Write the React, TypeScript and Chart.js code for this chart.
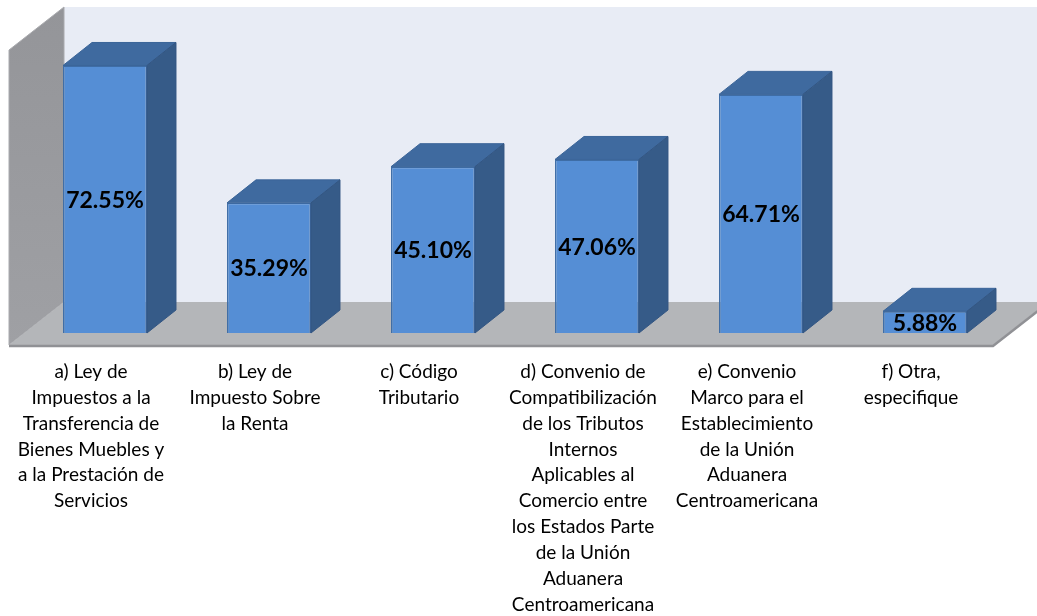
import React, { useEffect, useRef } from "react";
import { Chart, registerables } from "chart.js";

Chart.register(...registerables);

const categories: string[][] = [
  ["a) Ley de", "Impuestos a la", "Transferencia de", "Bienes Muebles y", "a la Prestación de", "Servicios"],
  ["b) Ley de", "Impuesto Sobre", "la Renta"],
  ["c) Código", "Tributario"],
  [
    "d) Convenio de",
    "Compatibilización",
    "de los Tributos",
    "Internos",
    "Aplicables al",
    "Comercio entre",
    "los Estados Parte",
    "de la Unión",
    "Aduanera",
    "Centroamericana",
  ],
  ["e) Convenio", "Marco para el", "Establecimiento", "de la Unión", "Aduanera", "Centroamericana"],
  ["f) Otra,", "especifique"],
];

const values: number[] = [72.55, 35.29, 45.1, 47.06, 64.71, 5.88];
const valueLabels: string[] = ["72.55%", "35.29%", "45.10%", "47.06%", "64.71%", "5.88%"];

const axisMin = 0;
const axisMax = 80;

const FONT = "Lato, 'Open Sans', 'DejaVu Sans', sans-serif";

// 3D offsets relative to the bar front plane
const FRONT = { x: -14, y: 12 };
const BACK = { x: 41, y: -31 };
const BAR_DEPTH = { x: 29, y: -23 };

const COLORS = {
  front: "#558ED5",
  frontBorder: "#3E6DA6",
  top: "#3F6A9F",
  side: "#365B88",
  backWall: "#E8ECF5",
  sideWall: "#97989C",
  floor: "#B4B6B9",
  floorEdge: "#909195",
};

const walls3d = {
  id: "walls3d",
  beforeDatasetsDraw(chart: any) {
    const { ctx, chartArea } = chart;
    const { left, right, top, bottom } = chartArea;
    ctx.save();
    // back wall
    ctx.fillStyle = COLORS.backWall;
    ctx.fillRect(left + BACK.x, top + BACK.y, right - left + 80, bottom - top);
    // side wall
    ctx.beginPath();
    ctx.moveTo(left + FRONT.x, bottom + FRONT.y);
    ctx.lineTo(left + FRONT.x, top + FRONT.y);
    ctx.lineTo(left + BACK.x, top + BACK.y);
    ctx.lineTo(left + BACK.x, bottom + BACK.y);
    ctx.closePath();
    const g = ctx.createLinearGradient(0, top + BACK.y, 0, bottom + FRONT.y);
    g.addColorStop(0, "#949599");
    g.addColorStop(1, "#9FA0A4");
    ctx.fillStyle = g;
    ctx.fill();
    ctx.strokeStyle = "#A9AAAE";
    ctx.lineWidth = 1;
    ctx.stroke();
    // floor
    ctx.beginPath();
    ctx.moveTo(left + FRONT.x, bottom + FRONT.y);
    ctx.lineTo(right + FRONT.x, bottom + FRONT.y);
    ctx.lineTo(right + BACK.x, bottom + BACK.y);
    ctx.lineTo(left + BACK.x, bottom + BACK.y);
    ctx.closePath();
    ctx.fillStyle = COLORS.floor;
    ctx.fill();
    // floor front and right edges
    ctx.beginPath();
    ctx.moveTo(left + FRONT.x, bottom + FRONT.y + 1);
    ctx.lineTo(right + FRONT.x, bottom + FRONT.y + 1);
    ctx.lineTo(right + BACK.x, bottom + BACK.y + 1);
    ctx.strokeStyle = COLORS.floorEdge;
    ctx.lineWidth = 2.5;
    ctx.stroke();
    ctx.restore();
  },
  afterDatasetsDraw(chart: any) {
    const { ctx } = chart;
    const meta = chart.getDatasetMeta(0);
    ctx.save();
    meta.data.forEach((bar: any) => {
      const { x, y, base, width } = bar.getProps(["x", "y", "base", "width"], true);
      const l = x - width / 2;
      const r = x + width / 2;
      // top face
      ctx.beginPath();
      ctx.moveTo(l, y);
      ctx.lineTo(r, y);
      ctx.lineTo(r + BAR_DEPTH.x, y + BAR_DEPTH.y);
      ctx.lineTo(l + BAR_DEPTH.x, y + BAR_DEPTH.y);
      ctx.closePath();
      ctx.fillStyle = COLORS.top;
      ctx.fill();
      ctx.strokeStyle = "#3A6498";
      ctx.lineWidth = 1;
      ctx.stroke();
      // side face
      ctx.beginPath();
      ctx.moveTo(r, y);
      ctx.lineTo(r, base);
      ctx.lineTo(r + BAR_DEPTH.x, base + BAR_DEPTH.y);
      ctx.lineTo(r + BAR_DEPTH.x, y + BAR_DEPTH.y);
      ctx.closePath();
      ctx.fillStyle = COLORS.side;
      ctx.fill();
      ctx.strokeStyle = "#335683";
      ctx.stroke();
    });
    // value labels
    ctx.fillStyle = "#000";
    ctx.font = `bold 23px ${FONT}`;
    ctx.textAlign = "center";
    ctx.textBaseline = "middle";
    meta.data.forEach((bar: any, i: number) => {
      const { x, y, base } = bar.getProps(["x", "y", "base"], true);
      ctx.fillText(valueLabels[i], x, (y + base) / 2 + 1);
    });
    ctx.restore();
  },
};

export default function App() {
  const ref = useRef<HTMLCanvasElement | null>(null);
  useEffect(() => {
    if (!ref.current) return;
    const chart = new Chart(ref.current, {
      type: "bar",
      data: {
        labels: categories,
        datasets: [
          {
            data: values,
            backgroundColor: COLORS.front,
            borderColor: COLORS.frontBorder,
            borderWidth: 1.5,
            barPercentage: 0.512,
            categoryPercentage: 1,
          },
        ],
      },
      options: {
        animation: false,
        responsive: true,
        maintainAspectRatio: false,
        layout: { padding: { left: 23, right: 30, top: 38, bottom: 0 } },
        plugins: {
          legend: { display: false },
          tooltip: { enabled: false },
          title: { display: false },
        },
        scales: {
          x: {
            offset: true,
            grid: { display: false, drawTicks: false },
            border: { display: false },
            ticks: {
              autoSkip: false,
              maxRotation: 0,
              minRotation: 0,
              padding: 26,
              labelOffset: -14,
              color: "#000",
              font: { family: FONT, size: 19, lineHeight: 1.36 },
            },
            afterFit(scale: any) {
              scale.height = 283;
            },
          },
          y: { display: false, min: axisMin, max: axisMax },
        },
      },
      plugins: [walls3d],
    });
    return () => chart.destroy();
  }, []);
  return (
    <div style={{ position: "fixed", left: 0, top: 0, width: 1037, height: 616, background: "#fff" }}>
      <canvas ref={ref} />
    </div>
  );
}
